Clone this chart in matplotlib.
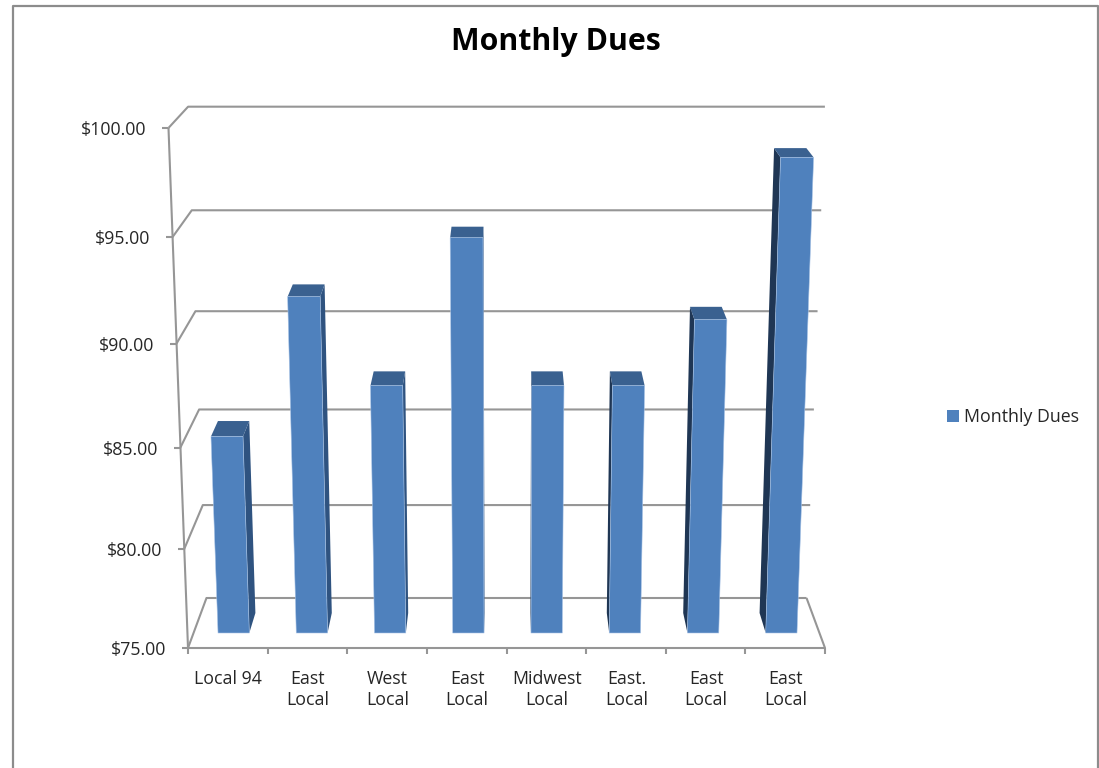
#!/usr/bin/env python3
"""Monthly dues per local, drawn as an Excel style 3D column chart."""

import matplotlib

matplotlib.use("Agg")
import matplotlib.pyplot as plt
from matplotlib.patches import Patch, Polygon

CATEGORIES = ["Local 94", "East\nLocal", "West\nLocal", "East\nLocal",
              "Midwest\nLocal", "East.\nLocal", "East\nLocal", "East\nLocal"]
DUES = [85.0, 91.8, 87.5, 94.6, 87.5, 87.5, 90.7, 98.35]
AXIS_TICKS = [75, 80, 85, 90, 95, 100]
SERIES_NAME = "Monthly Dues"

FRONT = "#4f81bd"
TOP = "#3a6190"
RIGHT_SIDE = "#2f5380"
LEFT_SIDE = "#1f3654"
GRID = "#969696"
TEXT = "#262626"
FONT = "Open Sans"
LABEL_SIZE = 12.8

W, H = 1099, 768
CENTER_X = 506.5
HALF_WIDTH = 318.5
BAR_DEPTHS = (0.3, 0.7)
BAR_WIDTH = 0.4  # fraction of a category slot
BAR_SHIFT = 0.513  # bars sit a touch right of the slot centre


def project(cat, value, depth):
    """cat in slots (0..8), value in dollars, depth 0 = front, 1 = back -> pixels."""
    u = value - AXIS_TICKS[0]
    floor_y = 648 - 50 * depth
    y = floor_y - (19.47 - 1.15 * depth) * u - 0.0533 * u ** 2
    scale = (1 - 0.058 * depth) * (1 + 0.00245 * u)
    x = CENTER_X + (cat / len(CATEGORIES) * 2 - 1) * HALF_WIDTH * scale
    return x, y


def draw_walls(ax):
    n = len(CATEGORIES)
    lo, hi = AXIS_TICKS[0], AXIS_TICKS[-1]
    style = dict(color=GRID, lw=1.5, zorder=1, solid_capstyle="butt")
    for v in AXIS_TICKS:
        x0, y0 = project(0, v, 0)
        x1, y1 = project(0, v, 1)
        x2, y2 = project(n, v, 1)
        ax.plot([x0, x1, x2], [y0, y1, y2], **style)
        ax.plot([x0 - 6, x0], [y0, y0], **style)
        label = f"${v:.2f}"
        ax.text(x0 - 22, y0 + 2, label, ha="right", va="center", fontsize=LABEL_SIZE,
                color=TEXT, family=FONT)
    ax.plot(*zip(project(0, lo, 0), project(0, hi, 0)), **style)
    ax.plot(*zip(project(0, lo, 0), project(n, lo, 0), project(n, lo, 1)), **style)
    for i in range(n + 1):
        x, y = project(i, lo, 0)
        ax.plot([x, x], [y, y + 6], **style)
    for i, name in enumerate(CATEGORIES):
        x, y = project(i + 0.5, lo, 0)
        ax.text(x + 0.5, y + 21.5, name, ha="center", va="top", fontsize=LABEL_SIZE, color=TEXT,
                family=FONT, linespacing=1.25)


def draw_bar(ax, i, value):
    lo = AXIS_TICKS[0]
    d0, d1 = BAR_DEPTHS
    left = i + BAR_SHIFT - BAR_WIDTH / 2
    right = i + BAR_SHIFT + BAR_WIDTH / 2
    # the side that shows depends on which side of the view centre the bar is on
    side_cat, side_color = (right, RIGHT_SIDE) if i < len(CATEGORIES) / 2 else (left, LEFT_SIDE)
    side = [project(side_cat, lo, d0), project(side_cat, lo, d1),
            project(side_cat, value, d1), project(side_cat, value, d0)]
    top = [project(left, value, d0), project(right, value, d0),
           project(right, value, d1), project(left, value, d1)]
    front = [project(left, lo, d0), project(right, lo, d0),
             project(right, value, d0), project(left, value, d0)]
    ax.add_patch(Polygon(side, closed=True, fc=side_color, ec="none", zorder=2))
    ax.add_patch(Polygon(top, closed=True, fc=TOP, ec="none", zorder=3))
    ax.add_patch(Polygon(front, closed=True, fc=FRONT, ec="#a9c4e6", lw=0.4, zorder=4))


def main():
    fig = plt.figure(figsize=(W / 100, H / 100), dpi=100)
    ax = fig.add_axes([0, 0, 1, 1])
    ax.set_xlim(0, W)
    ax.set_ylim(H, 0)
    ax.axis("off")

    # chart frame, the bottom edge is cropped off in the screenshot
    ax.plot([12.5, 12.5, 1097.5, 1097.5], [H, 5.5, 5.5, H], color="#8c8c8c", lw=1.6)

    draw_walls(ax)
    for i, value in enumerate(DUES):
        draw_bar(ax, i, value)

    ax.text(555.5, 42, SERIES_NAME, ha="center", va="center", fontsize=21.8, weight="bold",
            color="black", family=FONT)

    handle = Patch(fc=FRONT, ec="none")
    ax.legend([handle], [SERIES_NAME], loc="center left", bbox_to_anchor=(931 / W, 1 - 417 / H),
              frameon=False, handlelength=0.68, handleheight=0.68, handletextpad=0.3,
              borderpad=0.4, prop={"family": FONT, "size": LABEL_SIZE}, labelcolor=TEXT)

    fig.savefig("out.png", dpi=100)
    plt.close(fig)


if __name__ == "__main__":
    main()
